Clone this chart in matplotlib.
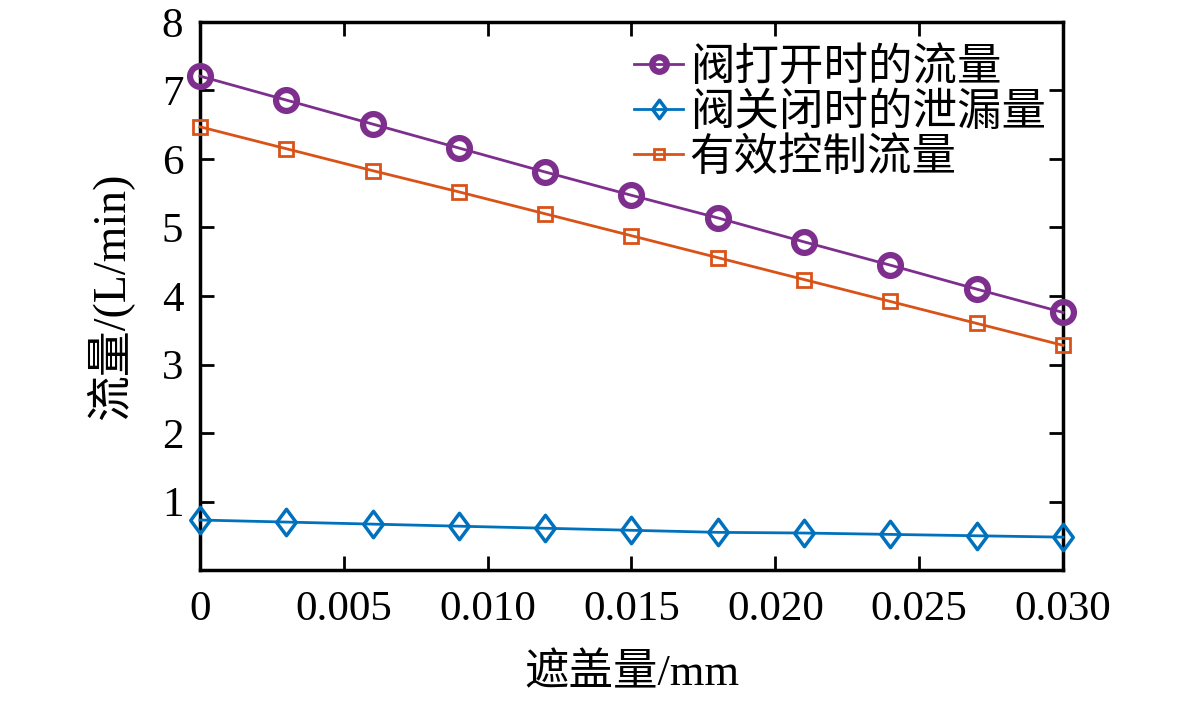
import matplotlib
matplotlib.use("Agg")
import matplotlib.pyplot as plt
from matplotlib.path import Path

plt.rcParams['font.family'] = ['Liberation Serif', 'Noto Sans CJK SC', 'DejaVu Sans']
plt.rcParams['mathtext.fontset'] = 'stix'

x = [0.000, 0.003, 0.006, 0.009, 0.012, 0.015, 0.018, 0.021, 0.024, 0.027, 0.030]
open_flow = [7.21, 6.86, 6.51, 6.16, 5.81, 5.47, 5.14, 4.79, 4.45, 4.10, 3.76]
leak_flow = [0.73, 0.70, 0.67, 0.64, 0.61, 0.58, 0.55, 0.54, 0.52, 0.50, 0.48]
eff_flow = [6.47, 6.15, 5.83, 5.52, 5.20, 4.88, 4.56, 4.24, 3.92, 3.60, 3.28]

labels = ['阀打开时的流量', '阀关闭时的泄漏量', '有效控制流量']
xticks = [0, 0.005, 0.010, 0.015, 0.020, 0.025, 0.030]
xticklabels = ['0', '0.005', '0.010', '0.015', '0.020', '0.025', '0.030']
yticks = [1, 2, 3, 4, 5, 6, 7, 8]

c_purple = '#7E2F8E'
c_blue = '#0072BD'
c_orange = '#D95319'

diamond = Path([(0, 0.5), (0.37, 0), (0, -0.5), (-0.37, 0), (0, 0.5)],
               [Path.MOVETO, Path.LINETO, Path.LINETO, Path.LINETO, Path.CLOSEPOLY])

fig = plt.figure(figsize=(11.81, 7.02), dpi=100)
ax = fig.add_axes([0.1693, 0.188, 0.7308, 0.7807])

ax.plot(x, open_flow, color=c_purple, lw=2, marker='o', ms=15, mew=4.5,
        mfc='none', mec=c_purple, label=labels[0], clip_on=False, zorder=3)
ax.plot(x, leak_flow, color=c_blue, lw=2, marker=diamond, ms=19, mew=2.5,
        mfc='none', mec=c_blue, label=labels[1], clip_on=False, zorder=3)
ax.plot(x, eff_flow, color=c_orange, lw=2, marker='s', ms=10, mew=2,
        mfc='none', mec=c_orange, label=labels[2], clip_on=False, zorder=3)

ax.set_xlim(0, 0.030)
ax.set_ylim(0, 8)
ax.set_xticks(xticks)
ax.set_xticklabels(xticklabels)
ax.set_yticks(yticks)
ax.tick_params(direction='in', length=10, width=2, top=True, right=True,
               labelsize=31, pad=12)
ax.tick_params(axis='x', pad=15)
for s in ax.spines.values():
    s.set_linewidth(2.5)

ax.set_xlabel('遮盖量/mm', fontsize=32, labelpad=18)
ax.set_ylabel('流量/(L/min)', fontsize=33, labelpad=20)

leg = ax.legend(loc='upper left', frameon=False, fontsize=32,
                handlelength=1.1, handletextpad=0.15, labelspacing=0.08,
                borderaxespad=0, borderpad=0, bbox_to_anchor=(0.503, 0.955))
for h in leg.legend_handles:
    h.set_markersize(h.get_markersize() * 0.7)

fig.savefig('out.png', dpi=100)
